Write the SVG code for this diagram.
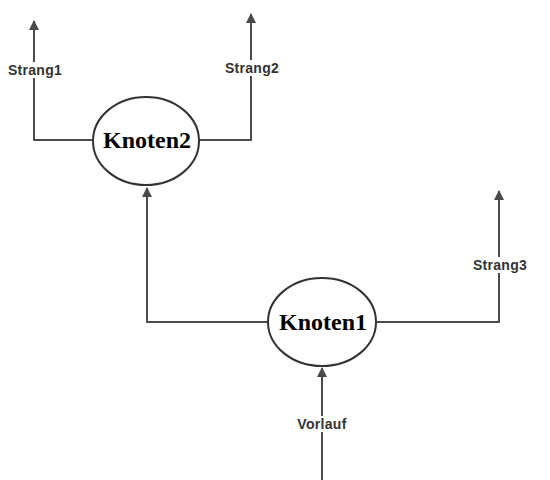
<svg xmlns="http://www.w3.org/2000/svg" width="550" height="480" viewBox="0 0 550 480">
<style>
.edge{fill:none;stroke:#4a4a4a;stroke-width:2;stroke-linejoin:round}
.node{fill:#fff;stroke:#333;stroke-width:2}
.nt{font-family:"Liberation Serif",serif;font-weight:bold;font-size:24px;fill:#000;text-anchor:middle}
.lt{font-family:"Liberation Sans",Arial,sans-serif;font-weight:bold;font-size:14px;letter-spacing:0.3px;fill:#333;text-anchor:middle}
.lbg{fill:#fff}
</style>
<defs>
<marker id="ah" markerWidth="10" markerHeight="12" refX="9" refY="5" orient="auto" markerUnits="userSpaceOnUse">
<path d="M0,0 L10,5 L0,10 Z" fill="#4a4a4a"/>
</marker>
</defs>
<rect width="550" height="480" fill="#fff"/>
<g id="connectors">
<path class="edge" d="M92,140 H34 V21" marker-end="url(#ah)"/>
<path class="edge" d="M199,140 H251 V14" marker-end="url(#ah)"/>
<path class="edge" d="M268,322 H147 V188" marker-end="url(#ah)"/>
<path class="edge" d="M377,322 H499 V191" marker-end="url(#ah)"/>
<path class="edge" d="M322,480 V368" marker-end="url(#ah)"/>
<g id="labels">
<rect class="lbg" x="3" y="62" width="62" height="16"/>
<text class="lt" x="35" y="75">Strang1</text>
<rect class="lbg" x="221" y="60" width="64" height="16"/>
<text class="lt" x="252" y="73">Strang2</text>
<rect class="lbg" x="468" y="257" width="64" height="16"/>
<text class="lt" x="500" y="270">Strang3</text>
<rect class="lbg" x="293" y="416" width="58" height="16"/>
<text class="lt" x="322" y="429">Vorlauf</text>
</g>
</g>
<g id="Knoten2">
<ellipse class="node" cx="146" cy="141" rx="53" ry="44"/>
<text class="nt" x="147" y="148">Knoten2</text>
</g>
<g id="Knoten1">
<ellipse class="node" cx="322" cy="322" rx="54" ry="44"/>
<text class="nt" x="323" y="330">Knoten1</text>
</g>
</svg>
